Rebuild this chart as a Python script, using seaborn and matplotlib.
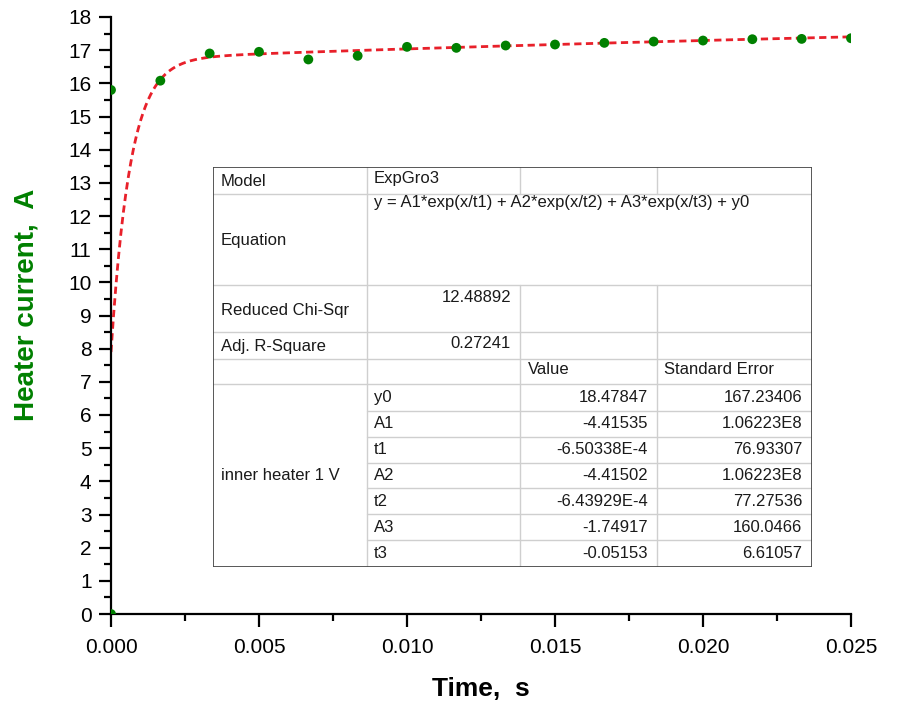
import numpy as np
import pandas as pd
import matplotlib
matplotlib.use("Agg")
import matplotlib.pyplot as plt
import seaborn as sns
from matplotlib.ticker import MultipleLocator, FormatStrFormatter

# ---- data ----
time_s = [0.0, 0.0, 0.001667, 0.003333, 0.005, 0.006667, 0.008333, 0.01, 0.011667,
          0.013333, 0.015, 0.016667, 0.018333, 0.02, 0.021667, 0.023333, 0.025]
current_A = [0.0, 15.80, 16.08, 16.90, 16.95, 16.72, 16.83, 17.10, 17.07,
             17.14, 17.17, 17.22, 17.26, 17.29, 17.33, 17.34, 17.36]

# fit parameters (ExpGro3) as given in the table
param_names = ["y0", "A1", "t1", "A2", "t2", "A3", "t3"]
param_values = [18.47847, -4.41535, -6.50338e-4, -4.41502, -6.43929e-4, -1.74917, -0.05153]
param_value_txt = ["18.47847", "-4.41535", "-6.50338E-4", "-4.41502", "-6.43929E-4", "-1.74917", "-0.05153"]
param_se_txt = ["167.23406", "1.06223E8", "76.93307", "1.06223E8", "77.27536", "160.0466", "6.61057"]

x_ticks = [0.0, 0.005, 0.010, 0.015, 0.020, 0.025]

# ---- style ----
sns.set_theme(style="ticks")
plt.rcParams["font.family"] = ["Liberation Sans", "DejaVu Sans"]

W, H = 897, 704
fig = plt.figure(figsize=(W / 100, H / 100), dpi=100)
ax = fig.add_axes([111 / W, 1 - 614 / H, (851 - 111) / W, (614 - 17) / H])

p = dict(zip(param_names, param_values))
xf = np.linspace(0, 0.025, 600)
yf = (p["y0"] + p["A1"] * np.exp(xf / p["t1"]) + p["A2"] * np.exp(xf / p["t2"])
      + p["A3"] * np.exp(xf / p["t3"]))
fit_df = pd.DataFrame({"t": xf, "I": yf})
data_df = pd.DataFrame({"t": time_s, "I": current_A})

sns.lineplot(data=fit_df, x="t", y="I", ax=ax, color="#e8202a", lw=2.0,
             dashes=False, zorder=2)
ax.lines[-1].set_dashes((2.6, 1.6))
sns.scatterplot(data=data_df, x="t", y="I", ax=ax, color="#008000", s=50,
                edgecolor="none", zorder=3)

ax.set_xlim(0, 0.025)
ax.set_ylim(0, 18)
ax.set_xticks(x_ticks)
ax.xaxis.set_major_formatter(FormatStrFormatter("%.3f"))
ax.xaxis.set_minor_locator(MultipleLocator(0.0025))
ax.yaxis.set_major_locator(MultipleLocator(1))
ax.yaxis.set_minor_locator(MultipleLocator(0.5))

for s in ["top", "right"]:
    ax.spines[s].set_visible(False)
for s in ["left", "bottom"]:
    ax.spines[s].set_linewidth(1.6)
    ax.spines[s].set_color("black")

ax.tick_params(axis="both", which="major", direction="out", length=9, width=1.6,
               labelsize=15, colors="black", pad=5)
ax.tick_params(axis="both", which="minor", direction="out", length=5, width=1.6,
               colors="black")
ax.tick_params(axis="x", which="major", pad=8)

ax.set_xlabel("Time,  s", fontsize=19, fontweight="bold", labelpad=15, color="black")
ax.set_ylabel("Heater current,  A", fontsize=20, fontweight="bold",
              color="#008000")
ax.yaxis.set_label_coords(-0.097, 0.517)
ax.grid(False)

# ---- fit table ----
L, R, T, B = 213, 812, 167, 567
tab = fig.add_axes([L / W, 1 - B / H, (R - L) / W, (B - T) / H], zorder=5)
tab.set_xlim(L, R)
tab.set_ylim(B, T)
tab.set_facecolor("white")
tab.axis("off")
tab.add_patch(plt.Rectangle((L, T), R - L, B - T, facecolor="white", edgecolor="none", zorder=0))

c1, c2, c3 = 367, 520, 657
light = "#cfcfcf"
dark = "#4a4a4a"
for y in [194, 285, 332, 359, 384]:
    tab.plot([L, R], [y, y], color=light, lw=1.0)
row_edges = [384, 411, 437, 463, 488, 514, 540, 567]
for y in row_edges[1:-1]:
    tab.plot([c1, R], [y, y], color=light, lw=1.0)
tab.plot([c1, c1], [T, B], color=light, lw=1.0)
for xc in [c2, c3]:
    tab.plot([xc, xc], [T, 194], color=light, lw=1.0)
    tab.plot([xc, xc], [285, B], color=light, lw=1.0)
tab.plot([L, R, R, L, L], [T, T, B, B, T], color=dark, lw=1.3, solid_joinstyle="miter")

fs = 12
tc = "#1a1a1a"
tab.text(221, 181, "Model", fontsize=fs, color=tc, va="center")
tab.text(374, 179, "ExpGro3", fontsize=fs, color=tc, va="center")
tab.text(221, 240, "Equation", fontsize=fs, color=tc, va="center")
tab.text(374, 202, "y = A1*exp(x/t1) + A2*exp(x/t2) + A3*exp(x/t3) + y0",
         fontsize=fs, color=tc, va="center")
tab.text(221, 310, "Reduced Chi-Sqr", fontsize=fs, color=tc, va="center")
tab.text(511, 297, "12.48892", fontsize=fs, color=tc, va="center", ha="right")
tab.text(221, 346, "Adj. R-Square", fontsize=fs, color=tc, va="center")
tab.text(511, 344, "0.27241", fontsize=fs, color=tc, va="center", ha="right")
tab.text(528, 369, "Value", fontsize=fs, color=tc, va="center")
tab.text(664, 369, "Standard Error", fontsize=fs, color=tc, va="center")
tab.text(221, 475, "inner heater 1 V", fontsize=fs, color=tc, va="center")
for i, (nm, v, se) in enumerate(zip(param_names, param_value_txt, param_se_txt)):
    yc = (row_edges[i] + row_edges[i + 1]) / 2
    tab.text(374, yc, nm, fontsize=fs, color=tc, va="center")
    tab.text(648, yc, v, fontsize=fs, color=tc, va="center", ha="right")
    tab.text(802, yc, se, fontsize=fs, color=tc, va="center", ha="right")

fig.savefig("out.png", dpi=100)
